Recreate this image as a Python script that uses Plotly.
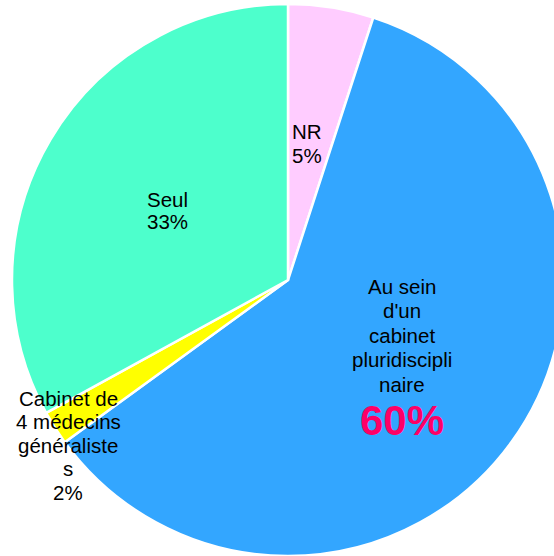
import plotly.graph_objects as go

labels = ["NR", "Au sein d'un cabinet pluridisciplinaire", "Cabinet de 4 médecins généralistes", "Seul"]
values = [5, 60, 2, 33]
colors = ["#FFCCFF", "#33A6FF", "#FFFF00", "#4DFFCC"]

# Label lines as displayed (wrapped as in the reference)
nr_lines = ["NR", "5%"]
pluri_lines = ["Au sein", "d'un", "cabinet", "pluridiscipli", "naire"]
pluri_pct = "60%"
cab_lines = ["Cabinet de", "4 médecins", "généraliste", "s", "2%"]
seul_lines = ["Seul", "33%"]

W, H = 580, 556  # page is clipped to 554 px wide; the pie runs past the right edge

fig = go.Figure(go.Pie(
    labels=labels,
    values=values,
    sort=False,
    direction="clockwise",
    rotation=0,
    marker=dict(colors=colors, line=dict(color="white", width=2.5)),
    textinfo="none",
    hoverinfo="label+percent",
    showlegend=False,
    domain=dict(x=[12 / W, 564 / W], y=[0, 552 / H]),
))

font = dict(family="Liberation Sans, Arial, sans-serif", size=20.5, color="black")


def add_block(lines, cx, y0, step=24):
    for i, t in enumerate(lines):
        fig.add_annotation(text=t, x=cx / W, y=1 - (y0 + i * step) / H, xref="paper", yref="paper",
                           showarrow=False, xanchor="center", yanchor="middle", font=font)


add_block(nr_lines, 307, 131)
add_block(seul_lines, 167, 199, 23)
add_block(pluri_lines, 402, 286, 24.5)
add_block(cab_lines, 68, 398, 23.5)
fig.add_annotation(text="<b>" + pluri_pct + "</b>", x=402 / W, y=1 - 420 / H, xref="paper", yref="paper",
                   showarrow=False, xanchor="center", yanchor="middle",
                   font=dict(family="Liberation Sans, Arial, sans-serif", size=42, color="#FF0066"))

fig.update_layout(width=W, height=H, margin=dict(l=0, r=0, t=0, b=0),
                  paper_bgcolor="white", plot_bgcolor="white")
fig.write_html("out.html", config={"displayModeBar": False},
               post_script="document.body.style.margin='0';document.body.style.overflow='hidden';")
